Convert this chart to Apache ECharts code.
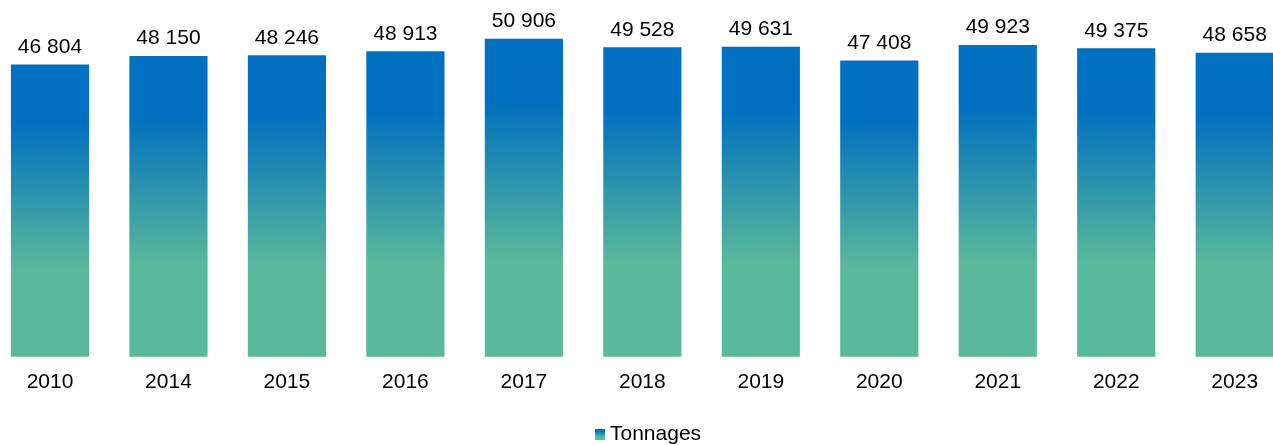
<!DOCTYPE html>
<html>
<head>
<meta charset="utf-8">
<script src="https://cdn.jsdelivr.net/npm/echarts@6/dist/echarts.min.js"></script>
<style>html,body{margin:0;padding:0;background:#fff}#c{width:1273px;height:445px}</style>
</head>
<body>
<div id="c"></div>
<script>
const categories = ['2010','2014','2015','2016','2017','2018','2019','2020','2021','2022','2023'];
const tonnages = [46804,48150,48246,48913,50906,49528,49631,47408,49923,49375,48658];
const seriesName = 'Tonnages';

const chart = echarts.init(document.getElementById('c'), null, {renderer:'canvas'});
const grad = new echarts.graphic.LinearGradient(0,0,0,1,[
  {offset:0, color:'#0070C0'},
  {offset:0.2, color:'#0070C0'},
  {offset:0.7, color:'#5AB99A'},
  {offset:1, color:'#5AB99A'}
]);
const fmt = v => String(v).replace(/\B(?=(\d{3})+(?!\d))/g,' ');
chart.setOption({
  animation:false,
  textStyle:{fontFamily:'Liberation Sans, Arial, sans-serif'},
  grid:{left:-9.25, width:1303.2, top:0.7, height:356, containLabel:false, outerBoundsMode:'none'},
  legend:{
    data:[seriesName], left:595, top:424, padding:0, itemWidth:10, itemHeight:11, itemGap:5,
    textStyle:{fontSize:21, color:'#000', fontFamily:'Liberation Sans, Arial, sans-serif'},
    icon:'rect'
  },
  xAxis:{type:'category', data:categories, axisLine:{show:false}, axisTick:{show:false},
    axisLabel:{fontSize:21, color:'#000', margin:15, fontFamily:'Liberation Sans, Arial, sans-serif'}},
  yAxis:{type:'value', min:0, max:57000, show:false, splitLine:{show:false}},
  series:[{
    name:seriesName, type:'bar', data:tonnages, barCategoryGap:'34%',
    itemStyle:{color:grad},
    label:{show:true, position:'top', distance:7, fontSize:21, color:'#000',
      fontFamily:'Liberation Sans, Arial, sans-serif', formatter:p=>fmt(p.value)}
  }]
});
</script>
</body>
</html>
